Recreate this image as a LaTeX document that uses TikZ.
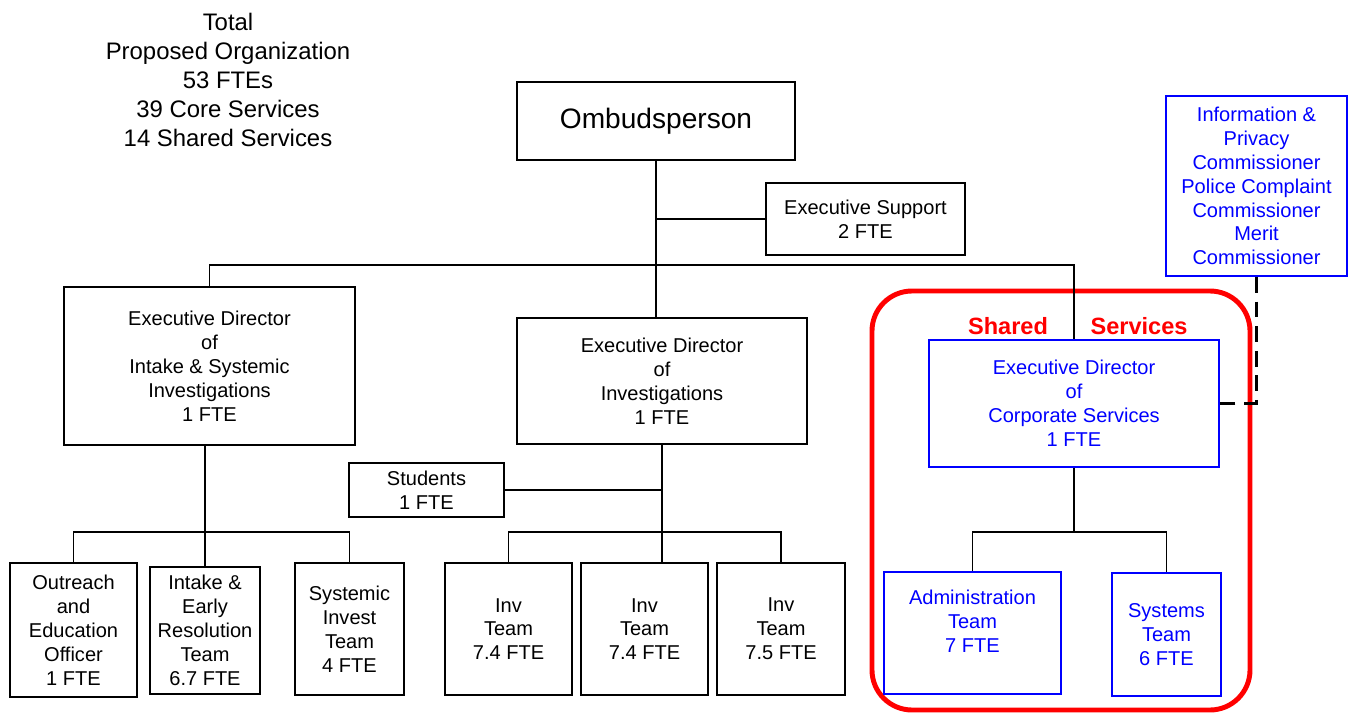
\documentclass[tikz,border=0pt]{standalone}
\usepackage{fontspec}
\setmainfont{Liberation Sans}
\usetikzlibrary{positioning}
\definecolor{OrgBlue}{HTML}{0000FF}
\definecolor{OrgRed}{HTML}{FF0000}
\newcommand{\boxfont}{\fontsize{11.4}{13.6}\selectfont}
\begin{document}
\begin{tikzpicture}[x=0.02cm, y=-0.02cm,
  sz/.style 2 args={minimum width=#1*0.02cm, minimum height=#2*0.02cm},
  nd/.style={draw, line width=1.4pt, align=center, inner sep=2pt, font=\boxfont},
  bnd/.style={nd, draw=OrgBlue, text=OrgBlue, line width=1.1pt},
  ln/.style={line width=0.8pt}]
  \useasboundingbox (0,0) rectangle (1349,713);
  % shared services frame
  \node[draw=OrgRed, line width=2.8pt, rounded corners=0.8cm, sz={378}{419}] (shared) at (1061,500.5) {};
  \node[font=\fontsize{13.4}{16}\selectfont\bfseries, text=OrgRed] (shL) at (1008,326) {Shared};
  \node[font=\fontsize{13.4}{16}\selectfont\bfseries, text=OrgRed] (shR) at (1139,326) {Services};
  % summary
  \node[align=center, font=\fontsize{13.6}{16.4}\selectfont] (total) at (228,80)
    {Total\\Proposed Organization\\53 FTEs\\39 Core Services\\14 Shared Services};
  % top
  \node[nd, sz={278}{78}, font=\fontsize{16}{19}\selectfont] (omb) at (656,121) {Ombudsperson};
  \node[nd, sz={199}{72}] (exsup) at (865.5,219) {Executive Support\\2 FTE};
  \node[bnd, sz={181}{180}] (ipc) at (1256.5,186)
    {Information \&\\Privacy\\Commissioner\\Police Complaint\\Commissioner\\Merit\\Commissioner};
  % directors
  \node[nd, sz={291}{158}] (edis) at (209.5,366)
    {Executive Director\\of\\Intake \& Systemic\\Investigations\\1 FTE};
  \node[nd, sz={290}{126}] (edinv) at (662,381)
    {Executive Director\\of\\Investigations\\1 FTE};
  \node[bnd, sz={290}{127}] (edcorp) at (1074,403.5)
    {Executive Director\\of\\Corporate Services\\1 FTE};
  \node[nd, sz={155}{54}] (stud) at (426.5,490) {Students\\1 FTE};
  % teams
  \node[nd, sz={127}{134}] (outr) at (73.5,630) {Outreach\\and\\Education\\Officer\\1 FTE};
  \node[nd, sz={110}{127}] (early) at (205,630.5) {Intake \&\\Early\\Resolution\\Team\\6.7 FTE};
  \node[nd, sz={109}{132}] (sysinv) at (349.5,629) {Systemic\\Invest\\Team\\4 FTE};
  \node[nd, sz={127}{132}] (inv1) at (508.5,629) {Inv\\Team\\7.4 FTE};
  \node[nd, sz={127}{132}] (inv2) at (644.5,629) {Inv\\Team\\7.4 FTE};
  \node[nd, sz={128}{132}] (inv3) at (781,629) {Inv\\Team\\7.5 FTE};
  \node[bnd, sz={177}{122}] (admin) at (972.5,633) {Administration\\Team\\7 FTE\\[0pt]};
  \node[bnd, sz={109}{123}] (systm) at (1166.5,634.5) {Systems\\Team\\6 FTE};
  % connectors
  \coordinate (bar1) at (656,265);
  \coordinate (bar2) at (205,532);
  \coordinate (bar3) at (662,532);
  \coordinate (bar4) at (1074,532);
  \draw[ln] (omb.south) -- (omb.south |- edinv.north);
  \draw[ln] (omb.south |- exsup.west) -- (exsup.west);
  \draw[ln] (edis.north) |- (bar1) -| (edcorp.north);
  \draw[ln] (early.north) -- (early.north |- edis.south);
  \draw[ln] (outr.north) |- (bar2) -| (sysinv.north);
  \draw[ln] (edinv.south) -- (edinv.south |- inv2.north);
  \draw[ln] (stud.east) -- (stud.east -| edinv.south);
  \draw[ln] (inv1.north) |- (bar3) -| (inv3.north);
  \draw[ln] (edcorp.south) -- (bar4);
  \draw[ln] (admin.north) |- (bar4) -| (systm.north);
  \draw[line width=1.4pt, dash pattern=on 9pt off 5pt] (ipc.south) |- (edcorp.east);
\end{tikzpicture}
\end{document}
